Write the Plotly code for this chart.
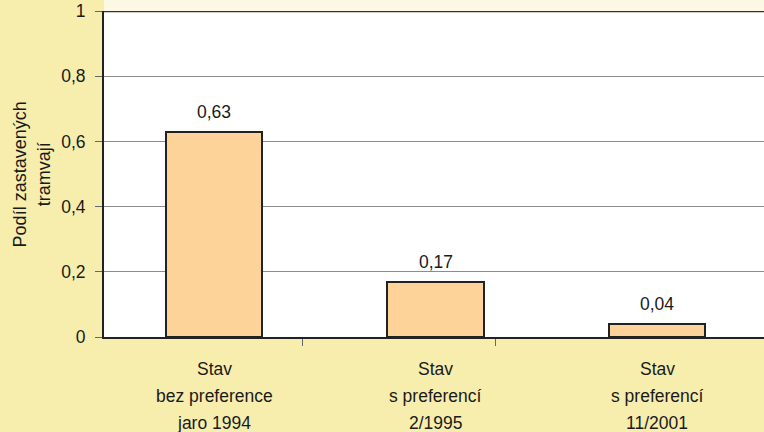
import plotly.graph_objects as go

# Share of delayed trams in each measured period
label_lines = [
    ["Stav", "bez preference", "jaro 1994"],
    ["Stav", "s preferencí", "2/1995"],
    ["Stav", "s preferencí", "11/2001"],
]
values = [0.63, 0.17, 0.04]
y_tick_vals = [0, 0.2, 0.4, 0.6, 0.8, 1]
y_title = "Podíl zastavených<br>tramvají"

positions = list(range(len(values)))
divider_ticks = [0.40, 1.27]

FONT = "Liberation Sans, Arial, sans-serif"
TEXT = "#1A1A1A"
BG = "#F7EEAE"
BAR = "#FDD39A"

fig = go.Figure(
    go.Bar(
        x=positions,
        y=values,
        width=0.435,
        marker=dict(color=BAR, line=dict(color="#222222", width=2)),
        hoverinfo="skip",
    )
)

# value labels above bars
for xp, v in zip(positions, values):
    fig.add_annotation(
        x=xp, y=v, xref="x", yref="y",
        text=f"{v:.2f}".replace(".", ","),
        showarrow=False, yanchor="bottom", yshift=8,
        font=dict(family=FONT, size=17.5, color=TEXT),
    )

# multi-line category labels below the axis
for xp, lines in zip(positions, label_lines):
    for i, line in enumerate(lines):
        fig.add_annotation(
            x=xp, y=0, xref="x", yref="y",
            text=line, showarrow=False, yanchor="top",
            yshift=-20 - 27 * i,
            font=dict(family=FONT, size=17.5, color=TEXT),
        )

# y-axis title
fig.add_annotation(
    x=-0.11, y=0.5, xref="paper", yref="paper",
    text=y_title, textangle=-90, showarrow=False,
    xanchor="center", yanchor="middle",
    font=dict(family=FONT, size=18, color=TEXT),
)

# light strip above the plot area and the dark top border
fig.add_shape(type="rect", xref="paper", yref="paper",
              x0=0, x1=1, y0=1, y1=1.05,
              fillcolor="#FDF8E3", line=dict(width=0), layer="below")
fig.add_shape(type="line", xref="paper", yref="y",
              x0=0, x1=1, y0=1, y1=1,
              line=dict(color="#333333", width=2.5))

fig.update_layout(
    width=764, height=432,
    margin=dict(l=104, r=0, t=11, b=95),
    paper_bgcolor=BG,
    plot_bgcolor="#FFFFFF",
    separators=", ",
    showlegend=False,
    bargap=0,
    font=dict(family=FONT, size=17, color=TEXT),
)
fig.update_xaxes(
    range=[-0.497, 2.483],
    tickvals=positions, ticktext=["" for _ in positions],
    ticks="",
    minor=dict(tickmode="array", tickvals=divider_ticks, ticks="outside",
               ticklen=7, tickcolor="#666666", tickwidth=1, showgrid=False),
    showgrid=False, zeroline=False,
    showline=True, linecolor="#222222", linewidth=2,
)
fig.update_yaxes(
    range=[0, 1],
    tickvals=y_tick_vals,
    ticks="outside", ticklen=7, tickcolor="#666666", tickwidth=1,
    ticklabelstandoff=6,
    tickfont=dict(family=FONT, size=17.5, color=TEXT),
    showgrid=True, gridcolor="#8C8C8C", gridwidth=1,
    zeroline=False,
    showline=True, linecolor="#222222", linewidth=2,
)

fig.write_html("out.html")
